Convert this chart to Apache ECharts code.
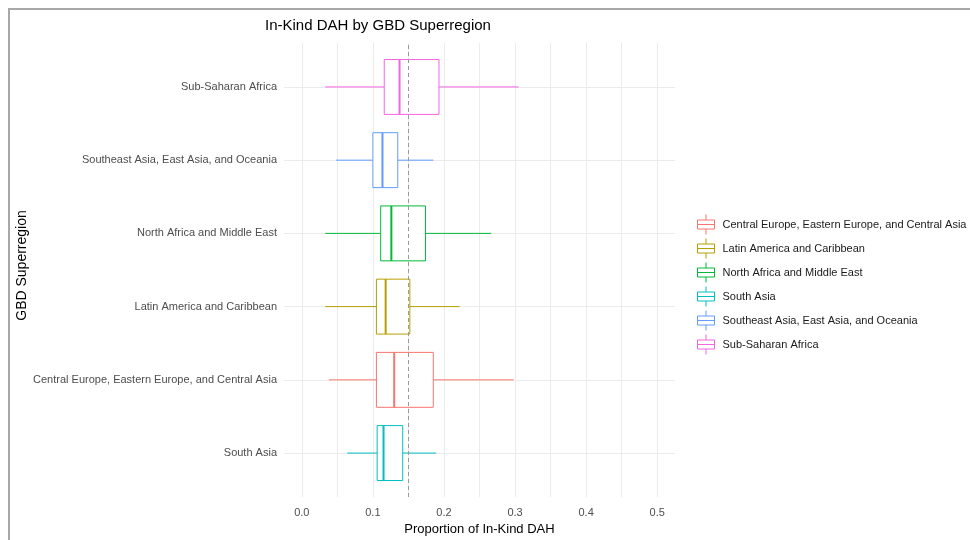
<!DOCTYPE html>
<html>
<head>
<meta charset="utf-8">
<script src="https://cdn.jsdelivr.net/npm/echarts@6/dist/echarts.min.js"></script>
<style>
  html, body { margin: 0; padding: 0; background: #fff; }
  #chart { width: 970px; height: 540px; }
</style>
</head>
<body>
<div id="chart"></div>
<script>
// categories, bottom to top on the y axis
const regions = [
  "South Asia",
  "Central Europe, Eastern Europe, and Central Asia",
  "Latin America and Caribbean",
  "North Africa and Middle East",
  "Southeast Asia, East Asia, and Oceania",
  "Sub-Saharan Africa",
];
// legend order (alphabetical, like ggplot)
const legendOrder = [
  "Central Europe, Eastern Europe, and Central Asia",
  "Latin America and Caribbean",
  "North Africa and Middle East",
  "South Asia",
  "Southeast Asia, East Asia, and Oceania",
  "Sub-Saharan Africa",
];
// box stats per region: [lower whisker, q1, median, q3, upper whisker]
const lowWhisker = [0.064, 0.038, 0.033, 0.033, 0.048, 0.033];
const q1Values = [0.106, 0.105, 0.105, 0.111, 0.100, 0.116];
const medianValues = [0.115, 0.130, 0.118, 0.126, 0.1135, 0.1375];
const q3Values = [0.142, 0.185, 0.152, 0.174, 0.135, 0.193];
const highWhisker = [0.189, 0.298, 0.222, 0.2665, 0.185, 0.305];
// reference line
const meanLine = 0.15;
// tick labels and grid lines
const xTicks = [0, 0.1, 0.2, 0.3, 0.4, 0.5];
const xGrid = [0, 0.05, 0.1, 0.15, 0.2, 0.25, 0.3, 0.35, 0.4, 0.45, 0.5];
// positions of the regions on the y axis (ggplot puts them at 1..n)
const yPos = [1, 2, 3, 4, 5, 6];

// ggplot hue colours
const colorMap = {
  "Central Europe, Eastern Europe, and Central Asia": "#F8766D",
  "Latin America and Caribbean": "#B79F00",
  "North Africa and Middle East": "#00BA38",
  "South Asia": "#00BFC4",
  "Southeast Asia, East Asia, and Oceania": "#619CFF",
  "Sub-Saharan Africa": "#F564E3",
};

const FONT = "'Liberation Sans', Arial, sans-serif";
const boxIcon = "path://M8.5,0V5.5M0,5.5H17V14.5H0ZM0,10H17M8.5,14.5V20";

// draw one box: whiskers, box, fat median
function renderBox(params, api) {
  const pos = api.value(0);
  const lo = api.coord([api.value(1), pos]);
  const a = api.coord([api.value(2), pos]);
  const md = api.coord([api.value(3), pos]);
  const b = api.coord([api.value(4), pos]);
  const hi = api.coord([api.value(5), pos]);
  const h = api.size([0, 1])[1] * 0.75;
  const y = a[1];
  const color = api.visual("color");
  return {
    type: "group",
    children: [
      { type: "line", shape: { x1: lo[0], y1: y, x2: a[0], y2: y }, style: { stroke: color, lineWidth: 1 } },
      { type: "line", shape: { x1: b[0], y1: y, x2: hi[0], y2: y }, style: { stroke: color, lineWidth: 1 } },
      { type: "rect", shape: { x: a[0], y: y - h / 2, width: b[0] - a[0], height: h }, style: { fill: "#fff", stroke: color, lineWidth: 1 } },
      { type: "line", shape: { x1: md[0], y1: y - h / 2, x2: md[0], y2: y + h / 2 }, style: { stroke: color, lineWidth: 2 } },
    ],
  };
}

const boxSeries = regions.map((name, i) => ({
  name: name,
  type: "custom",
  itemStyle: { color: colorMap[name] },
  encode: { y: 0, x: [1, 2, 3, 4, 5] },
  renderItem: renderBox,
  data: [[yPos[i], lowWhisker[i], q1Values[i], medianValues[i], q3Values[i], highWhisker[i]]],
  z: 3,
}));

const chart = echarts.init(document.getElementById("chart"));
chart.setOption({
  animation: false,
  backgroundColor: "#fff",
  textStyle: { fontFamily: FONT },
  title: {
    text: "In-Kind DAH by GBD Superregion",
    left: 265,
    top: 18,
    padding: 0,
    textStyle: { fontFamily: FONT, fontSize: 15, fontWeight: "normal", color: "#000" },
  },
  graphic: [
    {
      type: "rect",
      shape: { x: 9, y: 9, width: 1100, height: 700 },
      style: { fill: "none", stroke: "#a8a8a8", lineWidth: 2 },
      silent: true,
    },
  ],
  legend: {
    orient: "vertical",
    left: 697,
    top: 214,
    padding: 0,
    itemWidth: 17,
    itemHeight: 20,
    itemGap: 3,
    textStyle: { fontFamily: FONT, fontSize: 11, color: "#1a1a1a", padding: [0, 0, 0, 3] },
    data: legendOrder.map((name) => ({
      name: name,
      icon: boxIcon,
      itemStyle: { color: "#fff", borderColor: colorMap[name], borderWidth: 1 },
    })),
  },
  grid: { left: 284, width: 391, top: 43, height: 454, outerBoundsMode: "none" },
  xAxis: {
    type: "value",
    min: -0.025,
    max: 0.525,
    name: "Proportion of In-Kind DAH",
    nameLocation: "middle",
    nameGap: 25,
    nameTextStyle: { fontFamily: FONT, fontSize: 13, color: "#000" },
    axisLine: { show: false },
    axisTick: { show: false, customValues: xGrid },
    axisLabel: {
      customValues: xTicks,
      formatter: (v) => v.toFixed(1),
      color: "#4d4d4d",
      fontSize: 11,
      margin: 10,
    },
    splitLine: { show: true, lineStyle: { color: "#ebebeb", width: 1 } },
  },
  yAxis: {
    type: "value",
    min: 0.4,
    max: 6.6,
    name: "GBD Superregion",
    nameLocation: "middle",
    nameRotate: 90,
    nameGap: 252,
    nameTextStyle: { fontFamily: FONT, fontSize: 14, color: "#000", padding: [0, 0, 0, 9] },
    axisLine: { show: false },
    axisTick: { show: false, customValues: yPos },
    axisLabel: {
      customValues: yPos,
      formatter: (v) => regions[Math.round(v) - 1],
      color: "#4d4d4d",
      fontSize: 11,
      margin: 7,
    },
    splitLine: { show: true, lineStyle: { color: "#ebebeb", width: 1 } },
  },
  series: [
    {
      type: "line",
      data: [],
      silent: true,
      markLine: {
        silent: true,
        symbol: "none",
        label: { show: false },
        lineStyle: { type: [4, 3], color: "#9a9a9a", width: 1 },
        data: [{ xAxis: meanLine }],
        z: 10,
      },
    },
    ...boxSeries,
  ],
});
</script>
</body>
</html>
